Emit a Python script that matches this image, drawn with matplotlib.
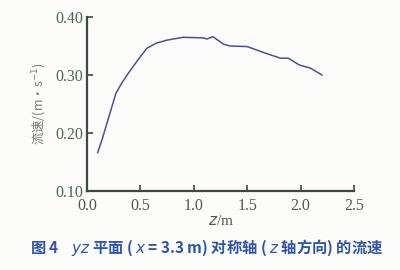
import matplotlib.pyplot as plt
import numpy as np

# 数据
z_m = [0.10, 0.14, 0.215, 0.27, 0.325, 0.387, 0.465, 0.56, 0.65, 0.746, 0.90,
       1.09, 1.12, 1.18, 1.21, 1.28, 1.34, 1.50, 1.68, 1.81, 1.885, 1.99, 2.09, 2.20]
velocity = [0.166, 0.188, 0.234, 0.268, 0.286, 0.303, 0.323, 0.346, 0.355, 0.360, 0.365,
            0.364, 0.362, 0.366, 0.362, 0.353, 0.350, 0.349, 0.337, 0.329, 0.329, 0.317, 0.312, 0.300]

x_ticks = [0.0, 0.5, 1.0, 1.5, 2.0, 2.5]
y_ticks = [0.10, 0.20, 0.30, 0.40]

serif = ['Liberation Serif', 'DejaVu Serif']
cjk = ['Noto Sans CJK SC', 'DejaVu Sans']
tick_color = '#4d6650'
axis_color = '#3c4a40'

fig = plt.figure(figsize=(4, 2.7), dpi=100, facecolor='#fcfcfa')
ax = fig.add_axes([0.2175, 0.293, 0.6675, 0.644])
ax.set_facecolor('#fcfcfa')

ax.plot(z_m, velocity, color='#4a4ea0', lw=1.1)

ax.set_xlim(0, 2.5)
ax.set_ylim(0.10, 0.40)
ax.set_xticks(x_ticks)
ax.set_yticks(y_ticks)
ax.set_xticklabels([f'{v:.1f}' for v in x_ticks], family=serif, fontsize=11.5, color='#555555')
ax.set_yticklabels([f'{v:.2f}' for v in y_ticks], family=serif, fontsize=11.5, color=tick_color)

for s in ['top', 'right']:
    ax.spines[s].set_visible(False)
for s in ['left', 'bottom']:
    ax.spines[s].set_color(axis_color)
    ax.spines[s].set_linewidth(1.6)
ax.tick_params(direction='in', length=4, width=1.2, color=axis_color)
ax.tick_params(axis='x', pad=5)
ax.tick_params(axis='y', pad=3)

ax.set_xlabel('$z$/m', fontsize=11, color='#555555', labelpad=0,
              family=serif)
ax.set_ylabel('流速/(m·s$^{-1}$)', fontsize=9, color='#777777', family=cjk, labelpad=4)

fig.text(0.075, 0.065, '图 4    $yz$ 平面 ( $x$ = 3.3 m) 对称轴 ( $z$ 轴方向) 的流速',
         fontsize=11, color='#2f55a8', family=cjk, fontweight='bold')

fig.savefig('out.png', dpi=100, facecolor=fig.get_facecolor())
